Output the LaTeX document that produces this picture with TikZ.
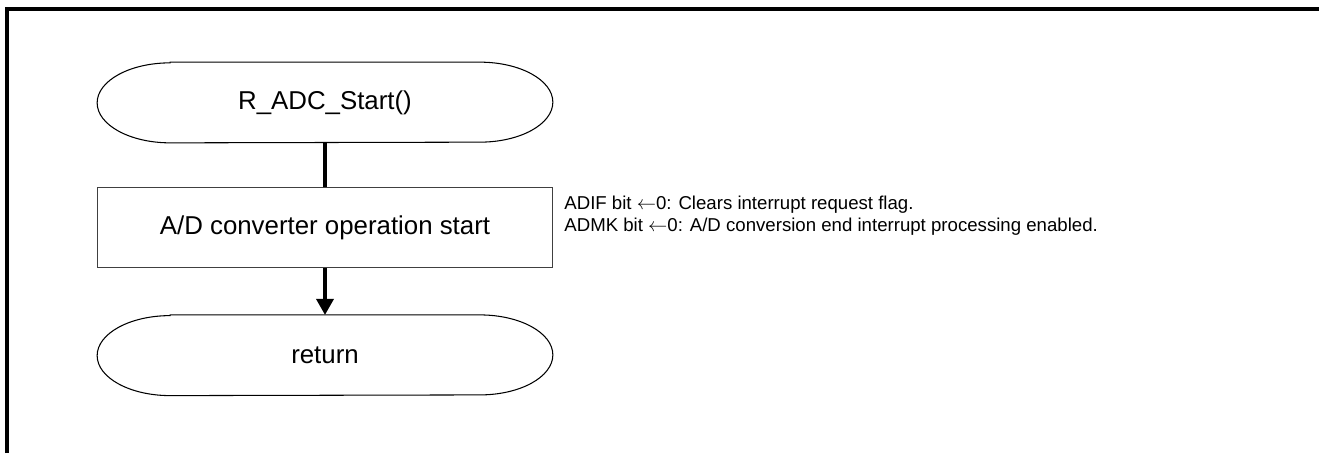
\documentclass[tikz,border=0pt]{standalone}
\usepackage{fontspec}
\setmainfont{Liberation Sans}
\usetikzlibrary {arrows.meta}
\usetikzlibrary {positioning}

\begin{document}
\begin{tikzpicture} [
        terminal/.style={rectangle, minimum width=9.1cm, minimum height=1.6cm,
                         font=\fontsize{14.7}{17}\selectfont},
        process/.style={draw=black!75, line width=0.6pt, rectangle, minimum width=9.1cm,
                        minimum height=1.6cm, font=\fontsize{14.7}{17}\selectfont},
        note/.style={align=left, inner sep=0pt, font=\fontsize{10.6}{12.5}\selectfont},
        flow/.style={line width=2pt},
        node distance=0.9cm ]
    \useasboundingbox (0,0) rectangle (26.38,-9.06);
    % frame
    \draw[line width=1.8pt] (0.14,-9.06) |- (26.38,-0.18);
    \node[terminal] at (6.5,-2.05) (start) {R\_ADC\_Start()};
    \node[process, below=0.88cm of start] (adstart) {A/D converter operation start};
    \node[terminal, below=0.94cm of adstart] (ret) {return};
    \node[note, right=0.22cm of adstart, yshift=0.24cm] (adnote)
        {ADIF bit $\leftarrow$0: Clears interrupt request flag.\\
         ADMK bit $\leftarrow$0: A/D conversion end interrupt processing enabled.};
    % terminal outlines
    \foreach \t in {start,ret}
        \draw[line width=0.6pt] ([xshift=1.46cm]\t.north west) -- ([xshift=-1.46cm]\t.north east)
            arc[start angle=90, end angle=-90, x radius=1.46cm, y radius=0.8cm]
            -- ([xshift=1.46cm]\t.south west)
            arc[start angle=270, end angle=90, x radius=1.46cm, y radius=0.8cm] -- cycle;
    \draw[flow] (start) -- (adstart);
    \draw[flow, -{Triangle[length=0.32cm, width=0.34cm]}] (adstart) -- (ret);
\end{tikzpicture}
\end{document}
